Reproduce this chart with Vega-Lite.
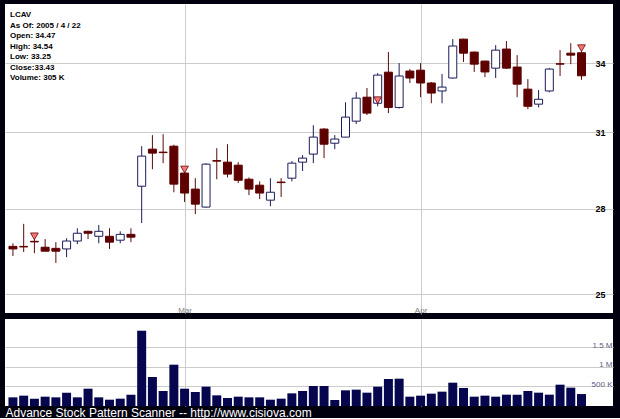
{
  "$schema": "https://vega.github.io/schema/vega-lite/v6.json",
  "background": "#00000e",
  "padding": {"left": 5, "top": 4, "right": 7, "bottom": 0},
  "spacing": 5,
  "config": {
    "view": {"stroke": null, "fill": "white"},
    "font": "Liberation Sans",
    "axis": {"minExtent": 0}
  },
  "datasets": {
    "prices": [
      {"i": 0, "date": "2005-02-04", "open": 26.64, "high": 26.75, "low": 26.30, "close": 26.55, "volume": 221000},
      {"i": 1, "date": "2005-02-07", "open": 26.64, "high": 27.45, "low": 26.44, "close": 26.62, "volume": 264000},
      {"i": 2, "date": "2005-02-08", "open": 26.82, "high": 26.90, "low": 26.40, "close": 26.80, "volume": 187000},
      {"i": 3, "date": "2005-02-09", "open": 26.61, "high": 26.90, "low": 26.47, "close": 26.47, "volume": 238000},
      {"i": 4, "date": "2005-02-10", "open": 26.57, "high": 26.79, "low": 26.06, "close": 26.47, "volume": 221000},
      {"i": 5, "date": "2005-02-11", "open": 26.55, "high": 26.93, "low": 26.26, "close": 26.83, "volume": 340000},
      {"i": 6, "date": "2005-02-14", "open": 26.83, "high": 27.29, "low": 26.72, "close": 27.11, "volume": 221000},
      {"i": 7, "date": "2005-02-15", "open": 27.18, "high": 27.20, "low": 26.90, "close": 27.11, "volume": 442000},
      {"i": 8, "date": "2005-02-16", "open": 27.00, "high": 27.41, "low": 26.75, "close": 27.18, "volume": 221000},
      {"i": 9, "date": "2005-02-17", "open": 27.00, "high": 27.29, "low": 26.55, "close": 26.79, "volume": 161000},
      {"i": 10, "date": "2005-02-18", "open": 26.86, "high": 27.18, "low": 26.75, "close": 27.07, "volume": 187000},
      {"i": 11, "date": "2005-02-22", "open": 27.07, "high": 27.29, "low": 26.79, "close": 26.97, "volume": 289000},
      {"i": 12, "date": "2005-02-23", "open": 28.86, "high": 30.44, "low": 27.48, "close": 30.04, "volume": 1921000},
      {"i": 13, "date": "2005-02-24", "open": 30.32, "high": 30.89, "low": 29.52, "close": 30.16, "volume": 740000},
      {"i": 14, "date": "2005-02-25", "open": 30.20, "high": 30.93, "low": 29.76, "close": 30.18, "volume": 383000},
      {"i": 15, "date": "2005-02-28", "open": 30.44, "high": 30.50, "low": 28.63, "close": 28.94, "volume": 1054000},
      {"i": 16, "date": "2005-03-01", "open": 29.37, "high": 29.45, "low": 28.26, "close": 28.60, "volume": 442000},
      {"i": 17, "date": "2005-03-02", "open": 28.75, "high": 29.17, "low": 27.81, "close": 28.18, "volume": 357000},
      {"i": 18, "date": "2005-03-03", "open": 28.07, "high": 29.76, "low": 28.05, "close": 29.72, "volume": 493000},
      {"i": 19, "date": "2005-03-04", "open": 29.86, "high": 30.36, "low": 29.13, "close": 29.84, "volume": 272000},
      {"i": 20, "date": "2005-03-07", "open": 29.80, "high": 30.52, "low": 29.20, "close": 29.33, "volume": 204000},
      {"i": 21, "date": "2005-03-08", "open": 29.68, "high": 29.80, "low": 28.98, "close": 29.09, "volume": 238000},
      {"i": 22, "date": "2005-03-09", "open": 29.13, "high": 29.20, "low": 28.52, "close": 28.75, "volume": 221000},
      {"i": 23, "date": "2005-03-10", "open": 28.90, "high": 29.05, "low": 28.37, "close": 28.60, "volume": 221000},
      {"i": 24, "date": "2005-03-11", "open": 28.33, "high": 29.17, "low": 28.10, "close": 28.63, "volume": 161000},
      {"i": 25, "date": "2005-03-14", "open": 29.02, "high": 29.17, "low": 28.45, "close": 29.00, "volume": 187000},
      {"i": 26, "date": "2005-03-15", "open": 29.17, "high": 29.84, "low": 29.05, "close": 29.76, "volume": 323000},
      {"i": 27, "date": "2005-03-16", "open": 29.80, "high": 30.08, "low": 29.45, "close": 29.96, "volume": 383000},
      {"i": 28, "date": "2005-03-17", "open": 30.12, "high": 31.30, "low": 29.76, "close": 30.81, "volume": 510000},
      {"i": 29, "date": "2005-03-18", "open": 31.14, "high": 31.18, "low": 29.96, "close": 30.52, "volume": 510000},
      {"i": 30, "date": "2005-03-21", "open": 30.56, "high": 30.89, "low": 30.32, "close": 30.73, "volume": 153000},
      {"i": 31, "date": "2005-03-22", "open": 30.81, "high": 32.27, "low": 30.80, "close": 31.64, "volume": 400000},
      {"i": 32, "date": "2005-03-23", "open": 31.47, "high": 32.71, "low": 31.35, "close": 32.45, "volume": 417000},
      {"i": 33, "date": "2005-03-24", "open": 32.49, "high": 32.89, "low": 31.73, "close": 31.81, "volume": 340000},
      {"i": 34, "date": "2005-03-28", "open": 32.23, "high": 33.55, "low": 32.10, "close": 33.46, "volume": 493000},
      {"i": 35, "date": "2005-03-29", "open": 33.59, "high": 34.50, "low": 31.81, "close": 32.05, "volume": 689000},
      {"i": 36, "date": "2005-03-30", "open": 32.05, "high": 34.00, "low": 32.00, "close": 33.42, "volume": 697000},
      {"i": 37, "date": "2005-03-31", "open": 33.64, "high": 33.73, "low": 33.11, "close": 33.33, "volume": 238000},
      {"i": 38, "date": "2005-04-01", "open": 33.68, "high": 34.00, "low": 32.49, "close": 33.11, "volume": 264000},
      {"i": 39, "date": "2005-04-04", "open": 33.11, "high": 33.15, "low": 32.23, "close": 32.67, "volume": 315000},
      {"i": 40, "date": "2005-04-05", "open": 32.76, "high": 33.51, "low": 32.23, "close": 32.93, "volume": 366000},
      {"i": 41, "date": "2005-04-06", "open": 33.33, "high": 35.10, "low": 33.30, "close": 34.78, "volume": 595000},
      {"i": 42, "date": "2005-04-07", "open": 35.10, "high": 35.12, "low": 34.05, "close": 34.45, "volume": 459000},
      {"i": 43, "date": "2005-04-08", "open": 34.50, "high": 34.52, "low": 33.60, "close": 33.95, "volume": 238000},
      {"i": 44, "date": "2005-04-11", "open": 34.09, "high": 34.10, "low": 33.37, "close": 33.60, "volume": 264000},
      {"i": 45, "date": "2005-04-12", "open": 33.77, "high": 34.82, "low": 33.33, "close": 34.59, "volume": 238000},
      {"i": 46, "date": "2005-04-13", "open": 34.64, "high": 35.01, "low": 33.73, "close": 33.77, "volume": 289000},
      {"i": 47, "date": "2005-04-14", "open": 33.82, "high": 34.36, "low": 32.49, "close": 33.06, "volume": 289000},
      {"i": 48, "date": "2005-04-15", "open": 32.84, "high": 33.28, "low": 31.98, "close": 32.10, "volume": 383000},
      {"i": 49, "date": "2005-04-18", "open": 32.19, "high": 32.80, "low": 32.05, "close": 32.40, "volume": 340000},
      {"i": 50, "date": "2005-04-19", "open": 32.76, "high": 33.77, "low": 32.70, "close": 33.73, "volume": 289000},
      {"i": 51, "date": "2005-04-20", "open": 33.97, "high": 34.59, "low": 33.42, "close": 33.95, "volume": 544000},
      {"i": 52, "date": "2005-04-21", "open": 34.45, "high": 34.91, "low": 33.95, "close": 34.36, "volume": 468000},
      {"i": 53, "date": "2005-04-22", "open": 34.47, "high": 34.54, "low": 33.25, "close": 33.43, "volume": 305000}
    ],
    "signals": [
      {"i": 2, "date": "2005-02-08", "price": 27.0},
      {"i": 16, "date": "2005-03-01", "price": 29.51},
      {"i": 34, "date": "2005-03-28", "price": 32.36},
      {"i": 53, "date": "2005-04-22", "price": 34.68}
    ]
  },
  "vconcat": [
    {
      "width": 608,
      "height": 309,
      "title": {
        "text": ["LCAV", "As Of: 2005 / 4 / 22", "Open: 34.47", "High: 34.54", "Low: 33.25", "Close:33.43", "Volume: 305 K"],
        "anchor": "start",
        "frame": "group",
        "orient": "top",
        "offset": -78,
        "dx": 5,
        "fontSize": 8,
        "fontWeight": "bold",
        "color": "black",
        "lineHeight": 10.5,
        "font": "Liberation Sans"
      },
      "data": {"name": "prices"},
      "encoding": {
        "x": {
          "field": "i",
          "type": "quantitative",
          "scale": {"domain": [-0.275, 55.47], "nice": false, "zero": false},
          "axis": {
            "values": [16, 38],
            "labelExpr": "datum.value == 16 ? 'Mar' : 'Apr'",
            "grid": true,
            "gridColor": "#cccccc",
            "ticks": false,
            "tickSize": 0,
            "domain": false,
            "labelColor": "#808080",
            "labelFontSize": 8,
            "labelPadding": -1,
            "labelBaseline": "alphabetic",
            "labelFlush": false,
            "title": null
          }
        }
      },
      "layer": [
        {
          "mark": {"type": "rule", "strokeWidth": 1},
          "encoding": {
            "y": {
              "field": "low",
              "type": "quantitative",
              "scale": {"type": "log", "domain": [24.38, 36.78], "nice": false, "zero": false},
              "axis": {
                "orient": "right",
                "values": [25, 28, 31, 34],
                "grid": true,
                "gridColor": "#cccccc",
                "ticks": false,
                "tickSize": 0,
                "domain": false,
                "labelPadding": -18,
                "labelAlign": "left",
                "labelBaseline": "middle",
                "labelFontSize": 9,
                "labelFontWeight": "bold",
                "labelColor": "black",
                "labelFlush": false,
                "title": null
              }
            },
            "y2": {"field": "high"},
            "color": {"condition": {"test": "datum.close >= datum.open", "value": "#1c1c5a"}, "value": "#5c0a0a"}
          }
        },
        {
          "mark": {"type": "bar", "size": 8, "strokeWidth": 1},
          "encoding": {
            "y": {
              "field": "open",
              "type": "quantitative",
              "axis": {
                "orient": "right",
                "values": [25, 28, 31, 34],
                "grid": true,
                "gridColor": "#cccccc",
                "ticks": false,
                "tickSize": 0,
                "domain": false,
                "labelPadding": -18,
                "labelAlign": "left",
                "labelBaseline": "middle",
                "labelFontSize": 9,
                "labelFontWeight": "bold",
                "labelColor": "black",
                "labelFlush": false,
                "title": null
              }
            },
            "y2": {"field": "close"},
            "fill": {"condition": {"test": "datum.close >= datum.open", "value": "white"}, "value": "#5e0000"},
            "stroke": {"condition": {"test": "datum.close >= datum.open", "value": "#1c1c5a"}, "value": "#5e0000"}
          }
        },
        {
          "data": {"name": "signals"},
          "mark": {"type": "point", "shape": "triangle-down", "filled": true, "size": 60, "fill": "#f07878", "stroke": "#700000", "strokeWidth": 0.8, "opacity": 1},
          "encoding": {
            "y": {
              "field": "price",
              "type": "quantitative",
              "axis": {
                "orient": "right",
                "values": [25, 28, 31, 34],
                "grid": true,
                "gridColor": "#cccccc",
                "ticks": false,
                "tickSize": 0,
                "domain": false,
                "labelPadding": -18,
                "labelAlign": "left",
                "labelBaseline": "middle",
                "labelFontSize": 9,
                "labelFontWeight": "bold",
                "labelColor": "black",
                "labelFlush": false,
                "title": null
              }
            }
          }
        }
      ]
    },
    {
      "width": 608,
      "height": 87,
      "data": {"name": "prices"},
      "mark": {"type": "bar", "size": 9, "color": "#06064f"},
      "encoding": {
        "x": {
          "field": "i",
          "type": "quantitative",
          "scale": {"domain": [-0.275, 55.47], "nice": false, "zero": false},
          "axis": {
            "values": [16, 38],
            "grid": true,
            "gridColor": "#cccccc",
            "labels": false,
            "ticks": false,
            "tickSize": 0,
            "domain": false,
            "title": "Advance Stock Pattern Scanner -- http://www.cisiova.com",
            "titleAnchor": "start",
            "titleAlign": "left",
            "titleColor": "white",
            "titleFontSize": 12,
            "titleFontWeight": "normal",
            "titleFont": "Liberation Sans",
            "titlePadding": 1,
            "titleBaseline": "top"
          }
        },
        "y": {
          "field": "volume",
          "type": "quantitative",
          "scale": {"domain": [0, 2220000], "nice": false},
          "axis": {
            "orient": "right",
            "values": [500000, 1000000, 1500000],
            "labelExpr": "datum.value >= 1000000 ? (datum.value / 1000000) + ' M' : (datum.value / 1000) + ' K'",
            "grid": true,
            "gridColor": "#cccccc",
            "ticks": false,
            "tickSize": 0,
            "domain": false,
            "labelPadding": -1,
            "labelAlign": "right",
            "labelBaseline": "alphabetic",
            "labelFontSize": 8,
            "labelColor": "#606080",
            "labelFlush": false,
            "title": null
          }
        }
      }
    }
  ]
}
